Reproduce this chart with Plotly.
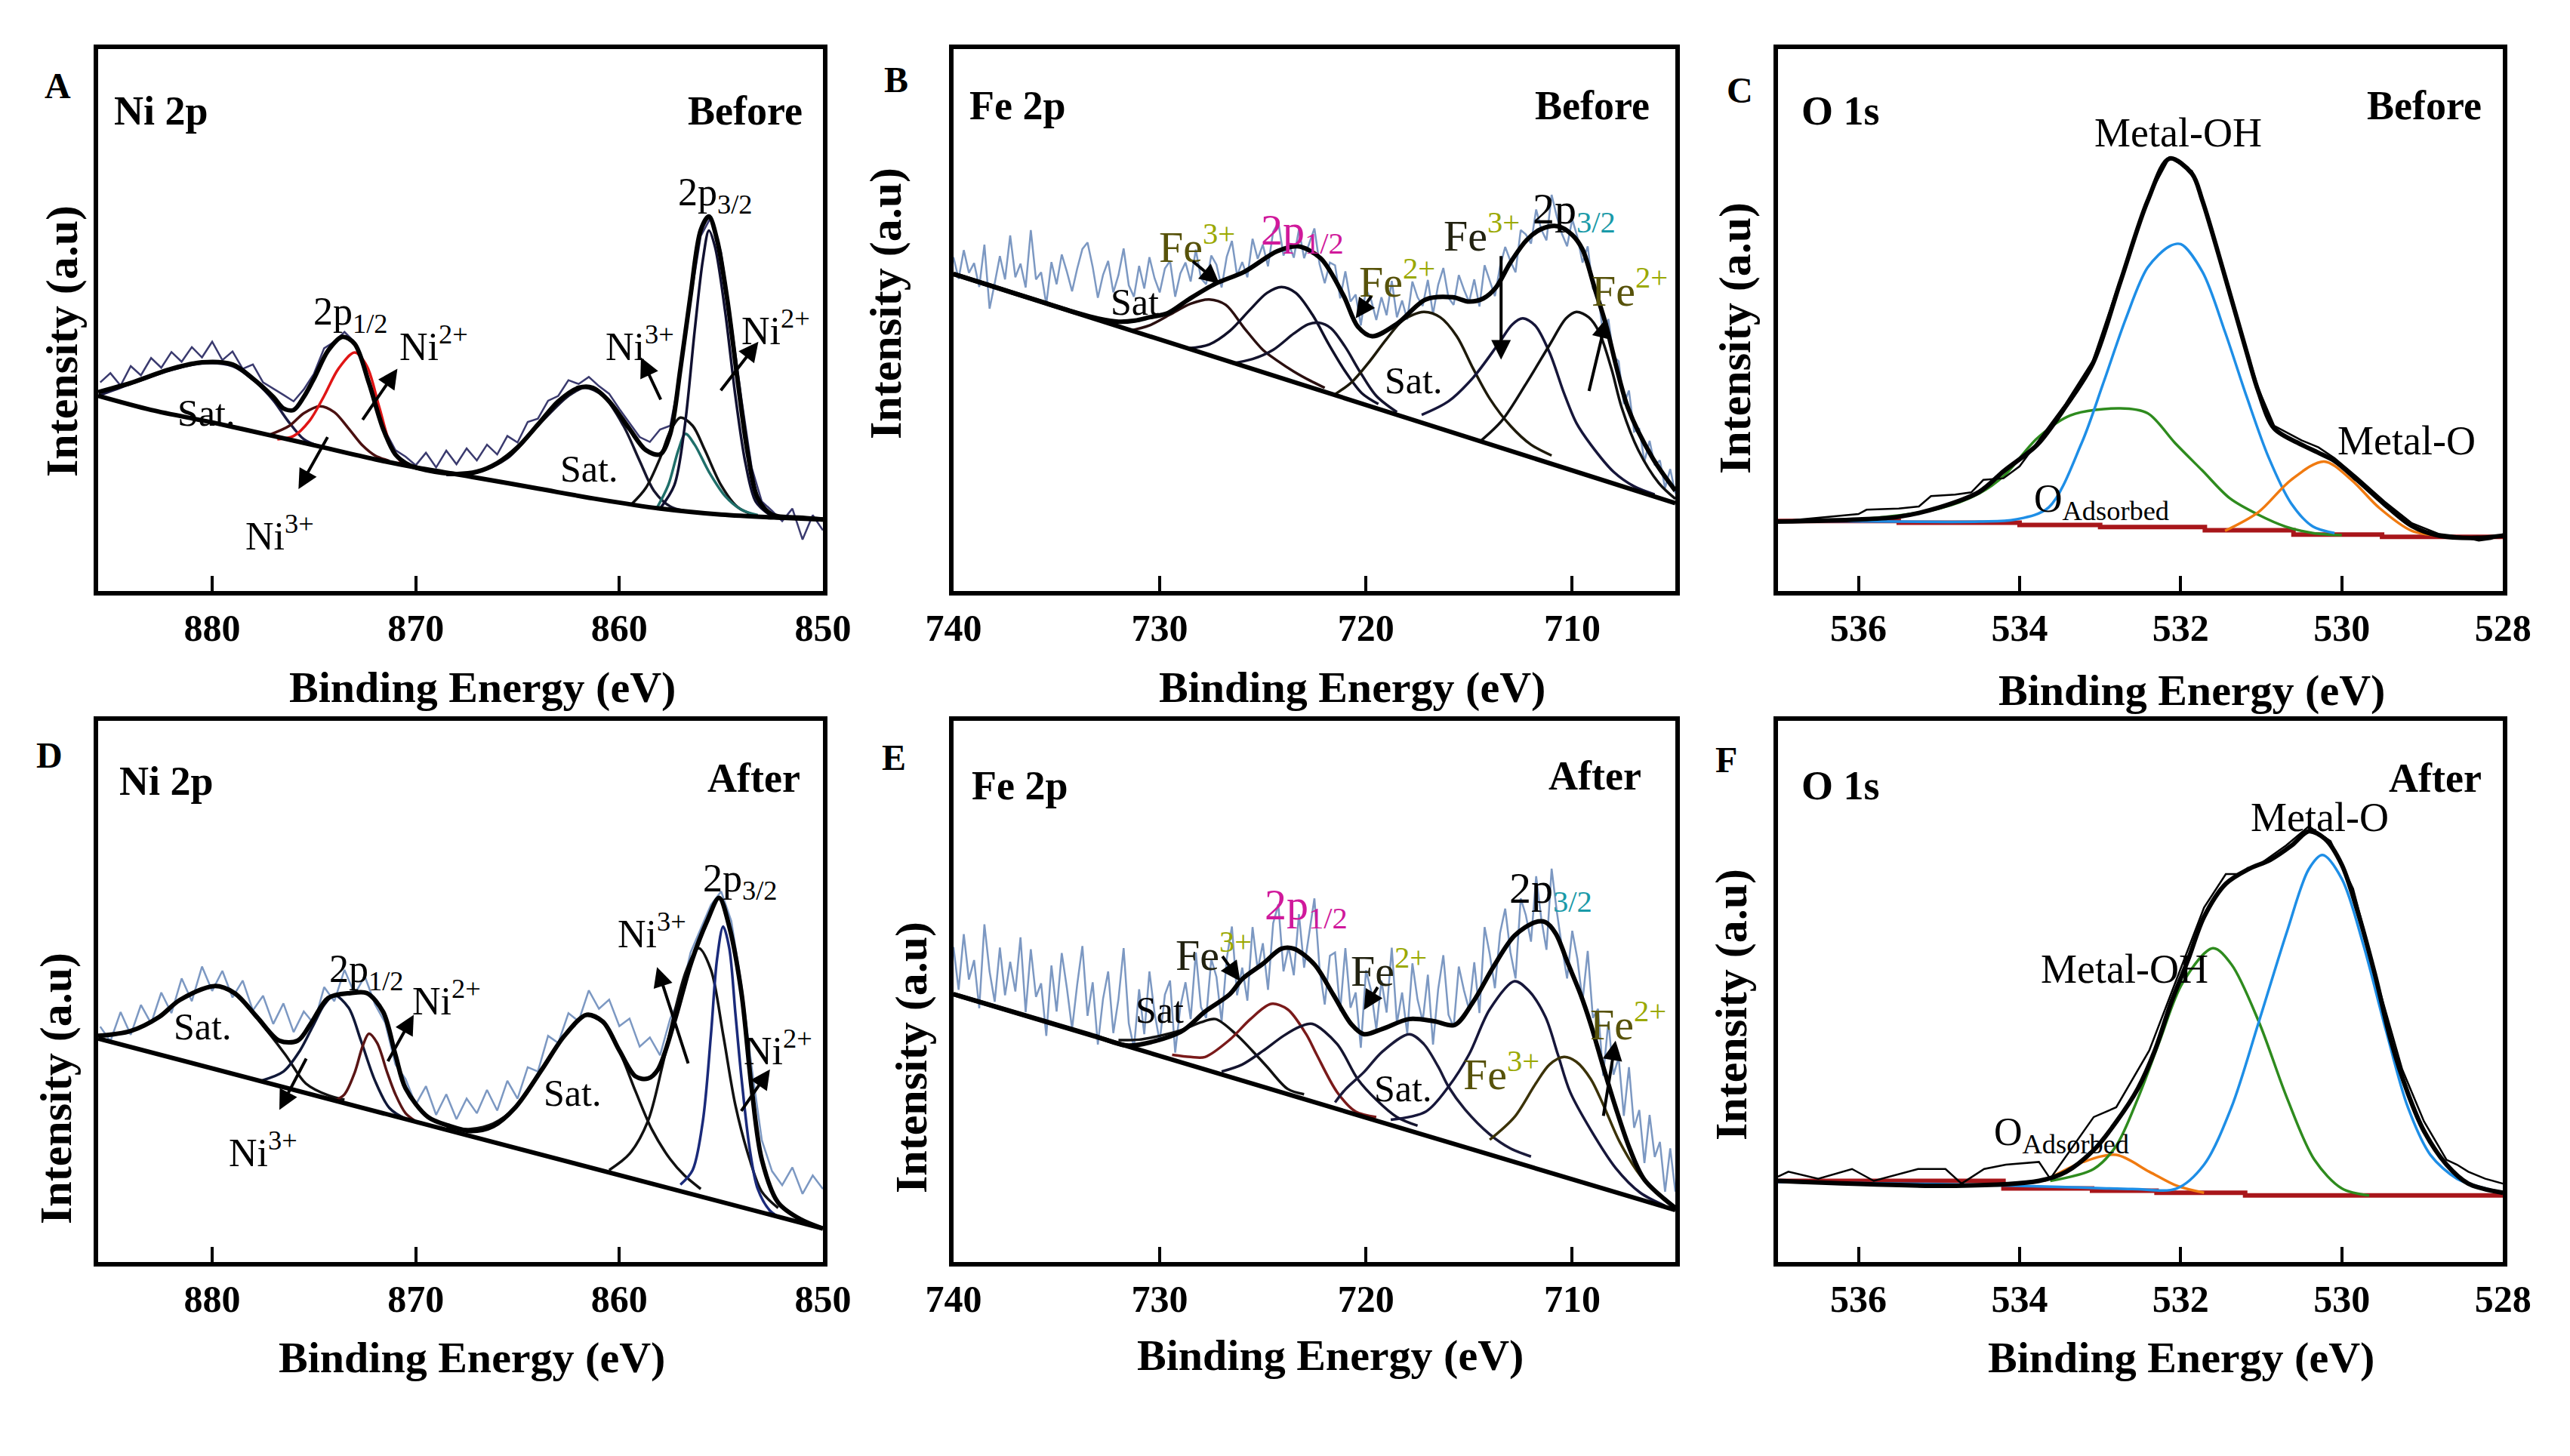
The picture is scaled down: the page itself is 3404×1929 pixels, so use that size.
import plotly.graph_objects as go

FONT = "Liberation Serif"

# ---------------- Panel A : Ni 2p (Before) ----------------
A_RAW_Y = [38.5, 40.2, 37.9, 41.5, 39.8, 43.0, 41.2, 44.1, 42.3, 45.0,
           43.1, 46.0, 42.6, 44.2, 41.0, 41.8, 38.5, 37.4, 36.2, 35.0,
           37.2, 40.1, 44.8, 46.0, 47.8, 45.9, 41.5, 34.8, 29.5, 26.0,
           24.8, 23.2, 25.5, 22.8, 25.9, 23.4, 26.3, 24.1, 27.0, 25.2,
           28.6, 27.4, 31.2, 31.8, 35.1, 36.0, 38.9, 38.2, 39.5, 37.8,
           36.4, 33.6, 31.0, 28.4, 27.5, 29.8, 30.5, 40.2, 53.8, 65.5,
           69.0, 62.5, 49.5, 35.5, 22.8, 16.5, 14.8, 12.9, 15.2, 9.5,
           14.0, 11.2]
A_RAW_E = [885.5 - 0.5 * i for i in range(len(A_RAW_Y))]
A_BG_E = [885.6, 883, 880, 877, 875, 872, 870, 867, 864, 861, 858, 855, 852, 850]
A_BG_Y = [36.0, 33.4, 31.1, 28.6, 26.9, 24.3, 22.8, 20.9, 18.9, 16.9, 15.2, 14.1, 13.5, 13.2]
A_ENV_E = [885.6, 884.0, 882.0, 880.5, 879.0, 878.0, 877.0, 876.5, 876.0, 875.5, 875.0,
           874.3, 873.6, 873.0, 872.3, 871.6, 871.0, 870.3, 869.5, 868.0, 867.0, 866.0,
           865.0, 864.0, 863.0, 862.0, 861.3, 860.5, 859.5, 858.7, 858.0, 857.5, 857.0,
           856.5, 856.0, 855.6, 855.2, 854.7, 854.2, 853.7, 853.2, 852.5, 851.0, 850.0]
A_ENV_Y = [36.7, 38.4, 41.0, 42.2, 41.8, 39.2, 35.8, 33.7, 33.4, 35.8, 39.2,
           44.4, 46.9, 45.6, 38.4, 29.9, 25.2, 23.2, 22.3, 21.6, 22.0, 23.6,
           26.5, 30.7, 35.0, 37.5, 37.5, 35.0, 29.9, 26.0, 25.2, 29.0, 41.0,
           54.6, 66.6, 69.1, 64.8, 53.8, 39.2, 25.6, 17.1, 14.1, 13.5, 13.2]
A_SAT1_E = [885.6, 884.0, 882.0, 880.5, 879.0, 878.0, 877.0, 876.3, 875.5, 874.8]
A_SAT1_Y = [36.0, 38.2, 40.8, 42.0, 41.5, 39.0, 35.2, 31.5, 28.0, 26.8]
A_NI3A_E = [877.2, 876.2, 875.5, 874.7, 874.0, 873.3, 872.6, 872.0, 871.3]
A_NI3A_Y = [28.8, 30.5, 32.8, 34.1, 33.0, 30.0, 26.8, 25.0, 24.0]
A_NI2A_E = [876.8, 876.0, 875.2, 874.5, 873.8, 873.0, 872.4, 871.8, 871.2, 870.6]
A_NI2A_Y = [28.0, 28.6, 31.5, 36.0, 41.0, 44.0, 41.5, 34.0, 26.5, 23.2]
A_SAT2_E = [868.5, 867.0, 865.5, 864.0, 862.5, 861.7, 860.8, 859.8, 859.0, 858.3, 857.5, 856.8]
A_SAT2_Y = [21.4, 21.9, 24.5, 30.5, 36.0, 37.5, 36.0, 30.5, 24.0, 18.5, 15.6, 14.8]
A_NI3B_E = [859.4, 858.7, 858.0, 857.5, 857.0, 856.4, 855.8, 855.0, 854.2, 853.4]
A_NI3B_Y = [16.0, 19.0, 24.5, 29.5, 32.0, 30.5, 26.0, 19.5, 15.5, 14.0]
A_TEAL_E = [858.2, 857.6, 857.1, 856.75, 856.3, 855.6, 854.8, 854.0, 853.2]
A_TEAL_Y = [15.0, 19.5, 26.0, 29.0, 27.0, 22.0, 17.5, 15.0, 14.0]
A_NI2B_E = [858.0, 857.3, 856.8, 856.3, 855.9, 855.6, 855.3, 854.8, 854.3, 853.8, 853.3, 852.6]
A_NI2B_Y = [15.2, 19.5, 30.0, 48.0, 61.0, 66.5, 63.5, 51.5, 36.0, 23.5, 16.5, 14.0]

# ---------------- Panel B : Fe 2p (Before) ----------------
B_RAW_Y = [61.6, 57.6, 62.9, 58.7, 60.5, 56.1, 63.9, 52.1, 56.8, 61.8,
           57.5, 65.6, 57.9, 60.4, 56.0, 66.6, 57.5, 58.8, 52.9, 60.7,
           56.6, 62.1, 58.9, 55.3, 59.5, 63.1, 64.3, 59.8, 54.1, 58.3,
           60.9, 55.1, 58.3, 63.2, 56.4, 54.3, 60.0, 55.8, 61.6, 57.7,
           55.1, 59.5, 60.9, 54.3, 58.6, 60.6, 57.1, 63.0, 57.7, 56.6,
           61.9, 60.2, 56.0, 61.7, 64.6, 58.2, 60.7, 57.9, 65.0, 61.3,
           63.9, 59.9, 66.3, 68.0, 61.9, 64.1, 61.5, 66.7, 61.4, 64.0,
           66.9, 60.3, 56.8, 60.6, 60.1, 54.0, 59.0, 53.4, 54.7, 49.0,
           55.7, 53.7, 50.0, 54.2, 50.9, 57.2, 50.5, 53.6, 50.1, 57.1,
           54.2, 52.6, 57.4, 51.1, 56.5, 59.6, 54.1, 52.8, 58.3, 55.6,
           53.3, 57.5, 52.5, 60.1, 57.2, 54.4, 59.9, 63.5, 60.9, 58.8,
           66.6, 65.8, 64.1, 70.4, 66.7, 64.7, 73.1, 69.1, 65.9, 63.6,
           68.6, 65.3, 60.6, 63.6, 55.8, 55.0, 47.2, 50.2, 43.3, 42.4,
           34.5, 37.0, 29.4, 29.9, 23.9, 27.7, 23.2, 24.1, 19.0, 22.5,
           18.0]
B_RAW_E = [740 - 0.25 * i for i in range(len(B_RAW_Y))]
B_BG_E = [740, 705]
B_BG_Y = [58.5, 16.2]
B_ENV_E = [740, 738, 736, 734, 733, 732, 731.2, 730.5, 729.6, 728.6, 727.3, 725.9, 724.3,
           723.3, 722.2, 721.1, 720.4, 719.7, 718.5, 717.1, 715.8, 715.0, 714.3, 713.7,
           713.0, 712.2, 711.5, 710.7, 710.0, 709.5, 708.9, 708.4, 707.3, 706.1, 705.0]
B_ENV_Y = [58.5, 56.1, 53.7, 51.3, 50.3, 49.7, 49.9, 50.5, 51.3, 53.8, 56.7, 58.9, 62.7,
           63.6, 61.4, 54.6, 48.8, 47.0, 49.3, 53.8, 54.2, 53.4, 54.0, 56.0,
           60.6, 64.8, 66.8, 67.3, 65.7, 63.0, 55.7, 49.6, 33.8, 24.5, 18.5]
B_C1_E = [731.5, 730.5, 729.5, 728.5, 727.6, 726.8, 725.9, 725.0, 724.3, 723.5, 722.7, 722.0]
B_C1_Y = [48.0, 49.0, 51.0, 53.0, 53.8, 52.8, 48.5, 44.5, 42.5, 40.5, 38.8, 37.5]
B_C2_E = [728.6, 727.6, 726.6, 725.6, 724.8, 724.1, 723.4, 722.6, 721.8, 721.0, 720.2, 719.4]
B_C2_Y = [44.8, 45.5, 48.0, 52.0, 55.0, 56.1, 55.0, 51.0, 45.5, 40.5, 36.5, 34.5]
B_C3_E = [726.5, 725.5, 724.5, 723.5, 722.8, 722.3, 721.7, 721.0, 720.3, 719.5, 718.5]
B_C3_Y = [42.0, 42.8, 44.5, 47.5, 49.2, 49.5, 48.5, 45.0, 40.5, 36.0, 33.0]
B_SAT_E = [721.5, 720.7, 719.9, 719.0, 718.2, 717.2, 716.4, 715.6, 714.8, 714.0, 713.0, 712.0, 711.0]
B_SAT_Y = [36.3, 38.5, 42.0, 46.5, 50.0, 51.5, 50.5, 47.0, 41.0, 35.5, 30.5, 27.0, 25.0]
B_FE3_E = [717.3, 716.0, 714.8, 713.6, 712.9, 712.4, 711.8, 711.1, 710.4, 709.8, 709.1, 708.0, 707.0, 706.0]
B_FE3_Y = [32.5, 35.0, 39.4, 45.5, 49.2, 50.3, 49.0, 44.0, 36.5, 31.0, 27.0, 22.0, 19.3, 17.8]
B_FE2_E = [714.5, 713.4, 712.2, 711.1, 710.3, 709.8, 709.2, 708.7, 708.1, 707.6, 706.8, 705.8, 705.0]
B_FE2_Y = [27.5, 31.5, 38.5, 45.4, 50.3, 51.5, 50.5, 47.8, 41.0, 33.8, 26.0, 19.9, 17.0]

# ---------------- Panel C : O 1s (Before) ----------------
C_BG_E = [537, 535.5, 534.0, 533.0, 531.7, 530.6, 529.5, 528]
C_BG_Y = [12.9, 12.6, 12.2, 11.8, 11.2, 10.4, 10.0, 10.0]
C_ENV_E = [537, 536, 535.5, 535, 534.5, 534.19, 533.78, 533.43, 533.09, 532.75, 532.41, 532.14,
           531.86, 531.73, 531.45, 531.18, 531.04, 530.84, 530.5, 530.29, 530.09, 529.81,
           529.47, 529.13, 528.79, 528.31, 528.0]
C_ENV_Y = [12.8, 13.2, 13.7, 15.4, 18.3, 22.2, 27.0, 34.0, 42.0, 57.0, 72.0, 79.8,
           77.0, 72.0, 58.0, 44.0, 37.0, 30.0, 27.0, 25.5, 24.0, 20.5,
           16.0, 12.0, 10.2, 9.8, 10.2]
C_RAW_E = [537, 536.5, 536.0, 535.9, 535.5, 535.25, 535.1, 534.8, 534.6, 534.45, 534.2, 534.0,
           533.78, 533.43, 533.09, 532.75, 532.41, 532.14, 531.86, 531.73, 531.45, 531.18,
           531.04, 530.84, 530.5, 530.29, 530.09, 529.81, 529.47, 529.13, 528.79, 528.5,
           528.3, 528.15, 528.0]
C_RAW_Y = [12.8, 13.5, 14.2, 15.0, 15.2, 15.6, 17.5, 17.8, 18.2, 20.5, 20.8, 23.0,
           27.5, 34.5, 42.5, 57.5, 72.5, 80.0, 77.5, 72.5, 58.5, 44.5,
           37.5, 30.5, 27.8, 26.5, 24.5, 21.0, 16.5, 12.5, 10.5, 10.0,
           9.3, 9.6, 10.5]
C_OH_E = [537, 535.5, 534.5, 534.05, 533.64, 533.23, 532.96, 532.68, 532.41, 532.14, 532.0,
          531.73, 531.45, 531.18, 530.91, 530.63, 530.36, 530.09]
C_OH_Y = [12.9, 12.8, 12.8, 13.2, 15.4, 27.3, 38.4, 50.3, 59.7, 63.6, 64.0,
          58.9, 47.8, 35.8, 24.7, 16.2, 11.9, 10.7]
C_ADS_E = [537, 536, 535, 534.5, 534.19, 533.78, 533.37, 532.75, 532.41, 532.07, 531.73,
           531.39, 531.04, 530.7, 530.36, 530.0]
C_ADS_Y = [12.8, 13.2, 15.2, 18.0, 21.3, 28.2, 32.4, 33.7, 32.8, 27.3, 22.2,
           17.1, 14.1, 11.9, 10.7, 10.3]
C_MO_E = [531.45, 531.04, 530.63, 530.22, 529.88, 529.54, 529.13, 528.72]
C_MO_Y = [11.1, 14.5, 20.5, 23.9, 20.5, 15.4, 11.1, 10.2]

# ---------------- Panel D : Ni 2p (After) ----------------
D_RAW_Y = [43.5, 40.8, 46.2, 42.0, 47.5, 44.1, 49.8, 46.0, 52.4, 48.2,
           54.6, 50.1, 53.8, 48.9, 52.0, 46.5, 49.2, 44.0, 47.8, 42.5,
           46.3, 44.0, 50.8, 48.2, 54.0, 49.5, 52.8, 47.6, 44.2, 36.5,
           33.8, 29.1, 32.5, 27.2, 31.0, 26.4, 30.2, 27.5, 31.8, 28.0,
           33.5, 30.2, 36.0, 35.2, 41.8, 40.5, 46.0, 44.5, 50.2, 46.8,
           48.5, 43.6, 45.0, 39.8, 41.5, 38.2, 45.0, 49.0, 57.2, 61.5,
           66.0, 68.5, 63.0, 51.2, 36.0, 22.5, 16.8, 14.2, 17.5, 12.6,
           16.0, 13.5]
D_RAW_E = [885.5 - 0.5 * i for i in range(len(D_RAW_Y))]
D_BG_E = [885.6, 850]
D_BG_Y = [41.3, 6.2]
D_ENV_E = [885.6, 884.0, 882.6, 881.6, 879.9, 878.9, 877.8, 876.7, 875.8, 875.1, 874.3, 873.2,
           872.4, 871.6, 871.0, 870.5, 869.4, 868.3, 867.3, 866.2, 865.1, 863.8, 862.7, 861.6,
           860.8, 860.0, 859.2, 858.6, 858.1, 857.3, 856.5, 855.7, 855.1, 854.6, 854.0, 853.5,
           853.0, 852.2, 851.1, 850.0]
D_ENV_Y = [41.8, 42.7, 45.3, 48.4, 51.0, 49.7, 45.3, 40.9, 40.9, 44.4, 48.8, 49.7,
           49.7, 46.2, 38.3, 32.1, 26.8, 25.1, 24.2, 25.1, 28.6, 35.6, 41.8, 45.7,
           44.4, 39.1, 34.3, 33.9, 35.6, 44.4, 55.0, 62.9, 67.3, 62.0, 49.7, 32.1,
           18.9, 11.0, 7.9, 6.2]
D_SAT1_E = [885.6, 884.0, 882.6, 881.6, 879.9, 878.9, 877.8, 876.4, 875.4, 874.3, 873.5]
D_SAT1_Y = [41.8, 42.7, 45.3, 48.4, 51.0, 49.5, 45.0, 38.3, 33.0, 30.8, 30.0]
D_NI3A_E = [877.6, 876.5, 875.7, 875.0, 874.5, 874.0, 873.3, 872.7, 872.0, 871.3, 870.5, 869.7]
D_NI3A_Y = [33.5, 35.2, 39.0, 44.0, 47.5, 49.3, 47.0, 41.0, 33.5, 28.5, 26.5, 25.7]
D_NI2A_E = [874.0, 873.5, 873.0, 872.6, 872.3, 871.9, 871.4, 871.0, 870.5, 870.0]
D_NI2A_Y = [29.8, 31.0, 35.0, 40.0, 42.2, 40.5, 35.0, 31.0, 27.5, 26.0]
D_SAT2_E = [868.5, 867.3, 866.2, 865.1, 863.8, 862.7, 861.7, 860.8, 860.0, 859.2, 858.4, 857.5, 856.8, 856.0]
D_SAT2_Y = [24.8, 24.6, 25.6, 28.6, 35.6, 41.8, 45.5, 44.2, 39.0, 31.5, 24.5, 19.0, 16.0, 13.5]
D_NI3B_E = [860.5, 859.5, 858.6, 857.9, 857.3, 856.7, 856.1, 855.5, 854.9, 854.3, 853.6, 853.0, 852.2]
D_NI3B_Y = [17.0, 20.0, 26.0, 36.0, 46.0, 54.0, 58.0, 54.0, 42.0, 29.0, 19.0, 13.0, 10.0]
D_NI2B_E = [857.0, 856.4, 855.9, 855.5, 855.2, 854.9, 854.6, 854.3, 854.0, 853.6, 853.2, 852.6, 852.0]
D_NI2B_Y = [14.3, 17.0, 26.0, 42.0, 56.0, 62.0, 58.0, 46.0, 34.0, 21.0, 13.5, 9.5, 8.0]

# ---------------- Panel E : Fe 2p (After) ----------------
E_RAW_Y = [58.2, 50.3, 60.6, 52.2, 55.8, 46.9, 62.4, 53.7, 48.1, 58.1,
           49.3, 55.5, 50.0, 60.0, 46.2, 57.8, 49.0, 51.5, 41.8, 54.8,
           46.3, 57.1, 50.6, 43.1, 51.3, 58.4, 45.5, 51.7, 40.2, 48.6,
           53.7, 42.3, 48.6, 58.0, 44.1, 39.5, 50.4, 42.1, 53.7, 46.0,
           40.7, 49.4, 52.0, 38.7, 47.2, 51.7, 44.9, 57.2, 47.1, 45.1,
           56.0, 52.7, 44.4, 56.1, 62.0, 49.3, 54.4, 48.3, 61.9, 54.0,
           58.9, 50.3, 62.6, 66.1, 53.7, 58.2, 53.0, 64.3, 54.4, 60.5,
           67.2, 54.2, 47.6, 56.6, 57.2, 46.4, 58.0, 47.0, 49.8, 39.6,
           53.9, 50.1, 43.0, 52.0, 46.1, 58.1, 44.1, 49.8, 42.2, 55.2,
           48.5, 44.5, 53.1, 40.2, 50.4, 56.7, 45.7, 43.4, 54.6, 50.2,
           46.6, 55.4, 46.0, 61.9, 56.9, 50.6, 60.8, 65.3, 57.3, 52.4,
           67.2, 64.1, 59.2, 71.3, 63.4, 57.7, 72.7, 64.8, 58.2, 52.4,
           61.2, 56.0, 48.2, 57.5, 45.1, 46.8, 34.4, 44.4, 34.6, 37.8,
           27.0, 36.0, 24.8, 28.1, 18.3, 27.2, 19.4, 22.2, 13.0, 21.0,
           13.0]
E_RAW_E = [740 - 0.25 * i for i in range(len(E_RAW_Y))]
E_BG_E = [740, 705]
E_BG_Y = [49.5, 9.6]
E_ENV_E = [740, 736, 733, 732.7, 731.5, 729.0, 727.8, 726.6, 726.0, 725.0, 724.1, 723.5, 722.5,
           721.6, 720.7, 720.1, 719.2, 717.9, 716.7, 715.7, 714.8, 713.8, 712.8, 711.8, 711.3,
           710.8, 710.2, 709.6, 709.1, 708.5, 707.9, 707.2, 706.5, 705.0]
E_ENV_Y = [49.5, 45.0, 41.6, 41.2, 40.0, 42.5, 46.3, 49.5, 52.3, 55.1, 57.9, 57.9, 55.0,
           49.5, 43.9, 42.1, 43.1, 44.9, 44.5, 43.8, 48.1, 54.7, 60.3, 62.8, 62.8,
           60.7, 55.1, 49.5, 43.9, 36.1, 28.6, 20.8, 15.2, 10.0]
E_C1_E = [732, 731, 730, 729, 728, 727.3, 726.3, 725.5, 724.8, 723.8, 723.0]
E_C1_Y = [41.0, 41.1, 41.8, 42.8, 44.3, 44.9, 42.1, 39.0, 36.1, 32.0, 31.0]
E_C2_E = [729.4, 728.5, 727.8, 726.6, 725.6, 724.6, 723.8, 722.9, 722.4, 721.4, 720.5, 719.5]
E_C2_Y = [38.3, 37.9, 37.9, 41.1, 44.9, 47.7, 46.7, 42.1, 38.4, 31.4, 27.8, 26.8]
E_C3_E = [727.0, 726.0, 725.0, 724.0, 723.2, 722.6, 721.4, 720.4, 719.5, 718.5, 717.5]
E_C3_Y = [35.2, 36.5, 39.0, 41.8, 43.5, 44.0, 40.3, 33.8, 30.0, 26.8, 25.2]
E_SAT_E = [721.5, 721.0, 720.1, 719.2, 717.9, 717.2, 716.5, 716.0, 715.2, 714.0, 713.0, 712.0]
E_SAT_Y = [29.5, 31.9, 35.1, 38.9, 42.1, 40.3, 36.1, 32.4, 28.2, 23.6, 21.0, 19.5]
E_FE3_E = [718.8, 717.1, 716.0, 715.0, 714.0, 712.8, 712.1, 711.3, 710.7, 710.1, 709.1, 707.9, 706.7, 705.5]
E_FE3_Y = [26.3, 27.8, 32.4, 38.4, 46.7, 51.9, 50.1, 45.3, 38.4, 31.4, 24.4, 17.4, 12.8, 10.4]
E_FE2_E = [714.0, 712.8, 711.8, 711.1, 710.4, 709.8, 709.1, 708.5, 707.7, 706.7, 705.5, 705.0]
E_FE2_Y = [22.6, 26.8, 32.8, 36.5, 37.9, 37.0, 33.8, 29.1, 22.2, 16.0, 11.4, 10.0]

# ---------------- Panel F : O 1s (After) ----------------
F_BG_E = [537, 534.2, 533.1, 532.3, 531.2, 528.0]
F_BG_Y = [15.0, 13.6, 13.2, 12.8, 12.3, 12.1]
F_ENV_E = [537, 534.79, 533.76, 533.42, 533.08, 532.8, 532.53, 532.32, 532.12, 531.91, 531.71,
           531.44, 531.16, 530.89, 530.62, 530.41, 530.21, 530.0, 529.8, 529.59, 529.39,
           529.18, 528.98, 528.7, 528.43, 528.0]
F_ENV_Y = [15.0, 14.1, 15.0, 16.7, 20.7, 25.9, 32.1, 39.1, 47.9, 55.8, 63.8,
           69.9, 72.6, 74.3, 77.0, 79.6, 78.2, 73.4, 64.6, 53.2, 40.9,
           31.2, 24.2, 18.0, 14.5, 12.8]
F_RAW_E = [537, 536.87, 536.5, 536.08, 535.81, 535.26, 534.92, 534.72, 534.44, 534.17, 533.76,
           533.62, 533.08, 532.8, 532.39, 532.12, 531.71, 531.44, 531.3, 531.03, 530.69,
           530.41, 530.14, 529.86, 529.52, 529.25, 528.98, 528.7, 528.57, 528.43, 528.22, 528.0]
F_RAW_Y = [15.8, 16.7, 15.4, 17.2, 15.0, 17.2, 17.2, 14.5, 17.2, 18.0, 18.5,
           15.4, 26.8, 28.6, 39.1, 49.7, 65.5, 71.7, 71.7, 73.4, 77.0,
           80.5, 77.8, 69.0, 49.7, 35.6, 26.0, 18.9, 18.0, 16.7, 15.4, 14.5]
F_MO_E = [537, 535, 533.5, 532.6, 532.05, 531.71, 531.37, 531.03, 530.68, 530.41, 530.24,
          530.0, 529.73, 529.45, 529.18, 528.9, 528.57, 528.22, 528.0]
F_MO_Y = [14.8, 14.4, 13.9, 13.5, 13.6, 18.0, 28.6, 44.4, 61.1, 72.6, 75.2,
          70.8, 58.5, 42.7, 28.6, 19.8, 15.4, 13.6, 12.8]
F_OH_E = [533.62, 533.08, 532.8, 532.53, 532.26, 531.98, 531.6, 531.37, 531.03, 530.68, 530.34, 530.0, 529.66]
F_OH_Y = [15.0, 17.2, 21.5, 30.3, 40.9, 51.5, 58.0, 55.0, 44.4, 30.3, 18.9, 13.6, 12.3]
F_ADS_E = [533.69, 533.21, 532.8, 532.39, 532.05, 531.71]
F_ADS_Y = [15.0, 18.5, 19.8, 16.7, 14.1, 12.8]

# ---------------- Axes ----------------
NI_RANGE = [885.6, 850]
NI_TICKS = [880, 870, 860, 850]
FE_RANGE = [740, 705]
FE_TICKS = [740, 730, 720, 710]
O_RANGE = [537, 528]
O_TICKS = [536, 534, 532, 530, 528]

fig = go.Figure()
AX = {'A': ('x', 'y'), 'B': ('x2', 'y2'), 'C': ('x3', 'y3'),
      'D': ('x4', 'y4'), 'E': ('x5', 'y5'), 'F': ('x6', 'y6')}


def curve(p, xs, ys, color, width, shape='spline'):
    xa, ya = AX[p]
    line = dict(color=color, width=width, shape=shape)
    if shape == 'spline':
        line['smoothing'] = 0.9
    fig.add_trace(go.Scatter(x=xs, y=ys, mode='lines', xaxis=xa, yaxis=ya, line=line,
                             hoverinfo='skip', showlegend=False))


RAW_DARK = '#3a3a6e'
RAW_LIGHT = '#7c98c2'
ENV_W, BG_W, CMP_W, RAW_W = 6, 6, 3.5, 2.5

# Panel A
curve('A', A_RAW_E, A_RAW_Y, RAW_DARK, RAW_W, 'linear')
curve('A', A_SAT1_E, A_SAT1_Y, '#1c1c44', CMP_W)
curve('A', A_NI3A_E, A_NI3A_Y, '#4a1010', CMP_W)
curve('A', A_NI2A_E, A_NI2A_Y, '#e01515', CMP_W)
curve('A', A_SAT2_E, A_SAT2_Y, '#16162e', CMP_W)
curve('A', A_NI3B_E, A_NI3B_Y, '#111111', CMP_W)
curve('A', A_TEAL_E, A_TEAL_Y, '#1f6f6a', CMP_W)
curve('A', A_NI2B_E, A_NI2B_Y, '#101030', CMP_W)
curve('A', A_BG_E, A_BG_Y, 'black', BG_W)
curve('A', A_ENV_E, A_ENV_Y, 'black', ENV_W)

# Panel B
curve('B', B_RAW_E, B_RAW_Y, RAW_LIGHT, RAW_W, 'linear')
curve('B', B_C1_E, B_C1_Y, '#2a0f0f', CMP_W)
curve('B', B_C2_E, B_C2_Y, '#101028', CMP_W)
curve('B', B_C3_E, B_C3_Y, '#14142e', CMP_W)
curve('B', B_SAT_E, B_SAT_Y, '#1e1a0a', CMP_W)
curve('B', B_FE3_E, B_FE3_Y, '#16163a', CMP_W)
curve('B', B_FE2_E, B_FE2_Y, '#101010', CMP_W)
curve('B', B_BG_E, B_BG_Y, 'black', BG_W, 'linear')
curve('B', B_ENV_E, B_ENV_Y, 'black', ENV_W)

# Panel C
curve('C', C_BG_E, C_BG_Y, '#a8161a', BG_W, 'hv')
curve('C', C_ADS_E, C_ADS_Y, '#2e8b1e', CMP_W)
curve('C', C_OH_E, C_OH_Y, '#1e8ee6', CMP_W)
curve('C', C_MO_E, C_MO_Y, '#f07a10', CMP_W)
curve('C', C_RAW_E, C_RAW_Y, 'black', RAW_W, 'linear')
curve('C', C_ENV_E, C_ENV_Y, 'black', ENV_W)

# Panel D
curve('D', D_RAW_E, D_RAW_Y, RAW_LIGHT, RAW_W, 'linear')
curve('D', D_SAT1_E, D_SAT1_Y, '#111111', CMP_W)
curve('D', D_NI3A_E, D_NI3A_Y, '#101838', CMP_W)
curve('D', D_NI2A_E, D_NI2A_Y, '#5a1515', CMP_W)
curve('D', D_SAT2_E, D_SAT2_Y, '#111111', CMP_W)
curve('D', D_NI3B_E, D_NI3B_Y, '#111111', CMP_W)
curve('D', D_NI2B_E, D_NI2B_Y, '#1a2a7a', CMP_W)
curve('D', D_BG_E, D_BG_Y, 'black', BG_W, 'linear')
curve('D', D_ENV_E, D_ENV_Y, 'black', ENV_W)

# Panel E
curve('E', E_RAW_E, E_RAW_Y, RAW_LIGHT, RAW_W, 'linear')
curve('E', E_C1_E, E_C1_Y, '#111111', CMP_W)
curve('E', E_C2_E, E_C2_Y, '#7a1a1a', CMP_W)
curve('E', E_C3_E, E_C3_Y, '#14142e', CMP_W)
curve('E', E_SAT_E, E_SAT_Y, '#1a1a3a', CMP_W)
curve('E', E_FE3_E, E_FE3_Y, '#16163a', CMP_W)
curve('E', E_FE2_E, E_FE2_Y, '#3b3208', CMP_W)
curve('E', E_BG_E, E_BG_Y, 'black', BG_W, 'linear')
curve('E', E_ENV_E, E_ENV_Y, 'black', ENV_W)

# Panel F
curve('F', F_BG_E, F_BG_Y, '#a8161a', BG_W, 'hv')
curve('F', F_ADS_E, F_ADS_Y, '#f07a10', CMP_W)
curve('F', F_OH_E, F_OH_Y, '#2e8b1e', CMP_W)
curve('F', F_MO_E, F_MO_Y, '#1e8ee6', CMP_W)
curve('F', F_RAW_E, F_RAW_Y, 'black', RAW_W, 'linear')
curve('F', F_ENV_E, F_ENV_Y, 'black', ENV_W)

# ---------------- Layout ----------------
X_DOM = [[0.0382, 0.3202], [0.3710, 0.6519], [0.6918, 0.9739]]
Y_DOM = [[0.5941, 0.9663], [0.1332, 0.5049]]
PANELS = [(1, 0, 0, NI_RANGE, NI_TICKS), (2, 1, 0, FE_RANGE, FE_TICKS), (3, 2, 0, O_RANGE, O_TICKS),
          (4, 0, 1, NI_RANGE, NI_TICKS), (5, 1, 1, FE_RANGE, FE_TICKS), (6, 2, 1, O_RANGE, O_TICKS)]

layout = dict(width=3404, height=1929, autosize=False, template='none',
              margin=dict(l=0, r=0, t=0, b=0, pad=0, autoexpand=False),
              paper_bgcolor='white', plot_bgcolor='white', showlegend=False)
for n, c, r, rng, tv in PANELS:
    sfx = '' if n == 1 else str(n)
    layout['xaxis' + sfx] = dict(domain=X_DOM[c], range=rng, anchor='y' + sfx, tickvals=tv,
                                 ticktext=[str(t) for t in tv], ticks='inside', ticklen=20,
                                 tickwidth=4, tickcolor='black', showline=True, linecolor='black',
                                 linewidth=6, mirror=True, showgrid=False, zeroline=False,
                                 automargin=False, ticklabelstandoff=0,
                                 tickfont=dict(family=FONT, size=50, color='black', weight='bold'))
    layout['yaxis' + sfx] = dict(domain=Y_DOM[r], range=[0, 100], anchor='x' + sfx,
                                 showticklabels=False, ticks='', showline=True, linecolor='black',
                                 linewidth=6, mirror=True, showgrid=False, zeroline=False,
                                 automargin=False)
fig.update_layout(**layout)


def label(p, x, y, text, size, color='black', xanchor='center', weight='normal'):
    xa, ya = AX[p]
    fig.add_annotation(x=x, y=y, xref=xa, yref=ya, text=text, showarrow=False,
                       xanchor=xanchor, yanchor='middle',
                       font=dict(family=FONT, size=size, color=color, weight=weight))


def arrow(p, hx, hy, tx, ty, width=4):
    xa, ya = AX[p]
    fig.add_annotation(x=hx, y=hy, xref=xa, yref=ya, ax=tx, ay=ty, axref=xa, ayref=ya,
                       text='', showarrow=True, arrowhead=2, arrowsize=1.3,
                       arrowwidth=width, arrowcolor='black', standoff=0, startstandoff=0)


def ptext(x, y, text, size, xanchor='center', weight='bold', angle=0):
    fig.add_annotation(x=x / 3404, y=1 - y / 1929, xref='paper', yref='paper', text=text,
                       showarrow=False, xanchor=xanchor, yanchor='middle', textangle=angle,
                       font=dict(family=FONT, size=size, color='black', weight=weight))


NI_S = 52
FE_S = 58
OLIVE = '#57520a'
YG = '#9aa800'
MAG = '#d0199b'
TEAL = '#1a9aa8'

# Panel A labels
label('A', 873.2, 51.0, '2p<sub>1/2</sub>', NI_S)
label('A', 869.1, 45.6, 'Ni<sup>2+</sup>', NI_S)
label('A', 880.3, 32.8, 'Sat.', 50)
label('A', 876.7, 10.7, 'Ni<sup>3+</sup>', NI_S)
label('A', 861.5, 22.6, 'Sat.', 50)
label('A', 859.0, 45.6, 'Ni<sup>3+</sup>', NI_S)
label('A', 855.3, 73.0, '2p<sub>3/2</sub>', NI_S)
label('A', 852.3, 48.6, 'Ni<sup>2+</sup>', NI_S)
arrow('A', 870.9, 41.0, 872.65, 31.4)
arrow('A', 875.76, 18.8, 874.3, 28.6)
arrow('A', 858.94, 43.1, 857.94, 35.1)
arrow('A', 853.17, 46.0, 855.06, 36.8)

# Panel B labels
label('B', 728.2, 64.0, 'Fe<sup><span style="color:%s">3+</span></sup>' % YG, FE_S, OLIVE)
label('B', 723.1, 66.1, '2p<sub>1/2</sub>', FE_S, MAG)
label('B', 731.2, 53.3, 'Sat', 50)
label('B', 718.5, 57.6, 'Fe<sup><span style="color:%s">2+</span></sup>' % YG, FE_S, OLIVE)
label('B', 717.7, 38.8, 'Sat.', 50)
label('B', 714.4, 66.1, 'Fe<sup><span style="color:%s">3+</span></sup>' % YG, FE_S, '#222210')
label('B', 709.9, 70.0, '2p<sub><span style="color:%s">3/2</span></sub>' % TEAL, FE_S)
label('B', 707.2, 55.9, 'Fe<sup><span style="color:%s">2+</span></sup>' % YG, FE_S, OLIVE)
arrow('B', 727.1, 56.7, 728.45, 61.0)
arrow('B', 720.5, 50.3, 719.7, 54.6)
arrow('B', 713.45, 42.7, 713.45, 62.0)
arrow('B', 708.35, 50.3, 709.2, 36.7)

# Panel C labels
label('C', 532.03, 84.5, 'Metal-OH', 54)
label('C', 529.2, 27.7, 'Metal-O', 54)
label('C', 533.84, 16.5, 'O<sub>Adsorbed</sub>', 52, xanchor='left')

# Panel D labels
label('D', 880.5, 43.5, 'Sat.', 50)
label('D', 872.4, 53.6, '2p<sub>1/2</sub>', NI_S)
label('D', 868.5, 48.8, 'Ni<sup>2+</sup>', NI_S)
label('D', 877.5, 20.7, 'Ni<sup>3+</sup>', NI_S)
label('D', 862.3, 31.2, 'Sat.', 50)
label('D', 858.4, 61.1, 'Ni<sup>3+</sup>', NI_S)
label('D', 854.05, 70.4, '2p<sub>3/2</sub>', NI_S)
label('D', 852.2, 39.6, 'Ni<sup>2+</sup>', NI_S)
arrow('D', 870.1, 45.7, 871.4, 36.9)
arrow('D', 876.7, 28.1, 875.35, 37.8)
arrow('D', 858.15, 54.5, 856.6, 36.5)
arrow('D', 852.6, 35.6, 854.05, 27.7)

# Panel E labels
label('E', 730.0, 46.6, 'Sat', 50)
label('E', 727.4, 57.2, 'Fe<sup><span style="color:%s">3+</span></sup>' % YG, FE_S, '#222210')
label('E', 722.9, 65.5, '2p<sub>1/2</sub>', FE_S, MAG)
label('E', 718.9, 54.3, 'Fe<sup><span style="color:%s">2+</span></sup>' % YG, FE_S, '#222210')
label('E', 718.2, 32.1, 'Sat.', 50)
label('E', 713.45, 35.2, 'Fe<sup><span style="color:%s">3+</span></sup>' % YG, FE_S, OLIVE)
label('E', 711.05, 68.6, '2p<sub><span style="color:%s">3/2</span></sub>' % TEAL, FE_S)
label('E', 707.3, 44.4, 'Fe<sup><span style="color:%s">2+</span></sup>' % YG, FE_S, OLIVE)
arrow('E', 726.1, 51.9, 727.0, 56.7)
arrow('E', 720.1, 46.6, 719.4, 51.0)
arrow('E', 707.9, 40.9, 708.5, 26.8)

# Panel F labels
label('F', 530.27, 82.2, 'Metal-O', 54)
label('F', 532.7, 54.1, 'Metal-OH', 54)
label('F', 534.34, 23.5, 'O<sub>Adsorbed</sub>', 52, xanchor='left')

# Panel letters
for x, y, t in [(76, 113, 'A'), (1187, 105, 'B'), (2304, 119, 'C'),
                (65, 1000, 'D'), (1184, 1003, 'E'), (2286, 1006, 'F')]:
    ptext(x, y, t, 48)

# Element / state titles
for x, y, t in [(149, 147, 'Ni 2p'), (1282, 140, 'Fe 2p'), (2384, 147, 'O 1s'),
                (156, 1035, 'Ni 2p'), (1285, 1041, 'Fe 2p'), (2384, 1041, 'O 1s')]:
    ptext(x, y, t, 54, xanchor='left')
for x, y, t in [(1065, 147, 'Before'), (2187, 140, 'Before'), (3289, 140, 'Before'),
                (1062, 1031, 'After'), (2176, 1028, 'After'), (3289, 1031, 'After')]:
    ptext(x, y, t, 54, xanchor='right')

# Axis titles
for x, y in [(639, 911), (1791, 911), (2903, 914), (625, 1798), (1762, 1795), (2889, 1798)]:
    ptext(x, y, 'Binding Energy (eV)', 58)
for x, y in [(82, 452), (1173, 402), (2298, 448), (74, 1442), (1207, 1401), (2293, 1331)]:
    ptext(x, y, 'Intensity (a.u)', 60, angle=-90)

fig.write_html("out.html")
